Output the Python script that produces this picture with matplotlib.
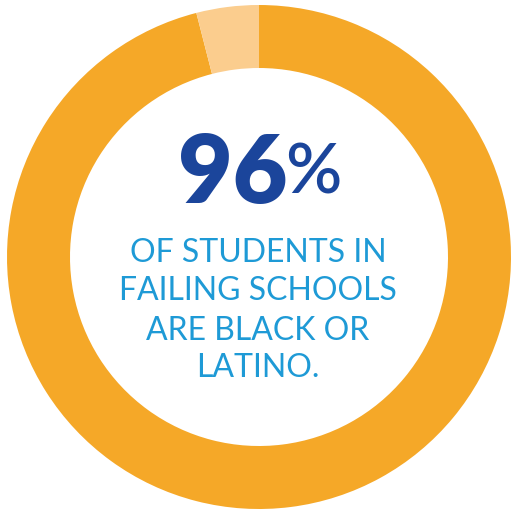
import matplotlib.pyplot as plt

# data
labels = ['Black or Latino', 'Other']
shares = [96, 4]
colors = ['#F5A828', '#FBCD8E']

big_number = '96'
big_suffix = '%'
caption_lines = ['OF STUDENTS IN', 'FAILING SCHOOLS', 'ARE BLACK OR', 'LATINO.']

W, H = 511, 512
cx, cy, R = 259, 257, 252   # pixels


def px(x, y):
    return (x - cx) / R, (cy - y) / R


fig = plt.figure(figsize=(W / 100, H / 100), dpi=100)
ax = fig.add_axes([0, 0, 1, 1])

# clockwise from 12 o'clock: the big share first, the small one just left of the top
ax.pie(shares, colors=colors, startangle=90, counterclock=False,
       radius=1, wedgeprops=dict(width=0.25, linewidth=0))
ax.set_xlim(-cx / R, (W - cx) / R)
ax.set_ylim(-(H - cy) / R, cy / R)
ax.set_aspect('auto')
ax.axis('off')

font = ['Lato', 'DejaVu Sans']

x, y = px(287, 203)
ax.text(x, y, big_number, ha='right', va='baseline', fontsize=68,
        fontweight='heavy', color='#1B459B', family=font)
x, y = px(285, 193)
ax.text(x, y, big_suffix, ha='left', va='baseline', fontsize=50,
        fontweight='semibold', color='#1B459B', family=font)

baselines = [262, 300, 340, 377]
for line, b in zip(caption_lines, baselines):
    x, y = px(258, b)
    ax.text(x, y, line, ha='center', va='baseline', fontsize=23,
            color='#1E9AD6', family=font)

fig.savefig('out.png', dpi=100)
